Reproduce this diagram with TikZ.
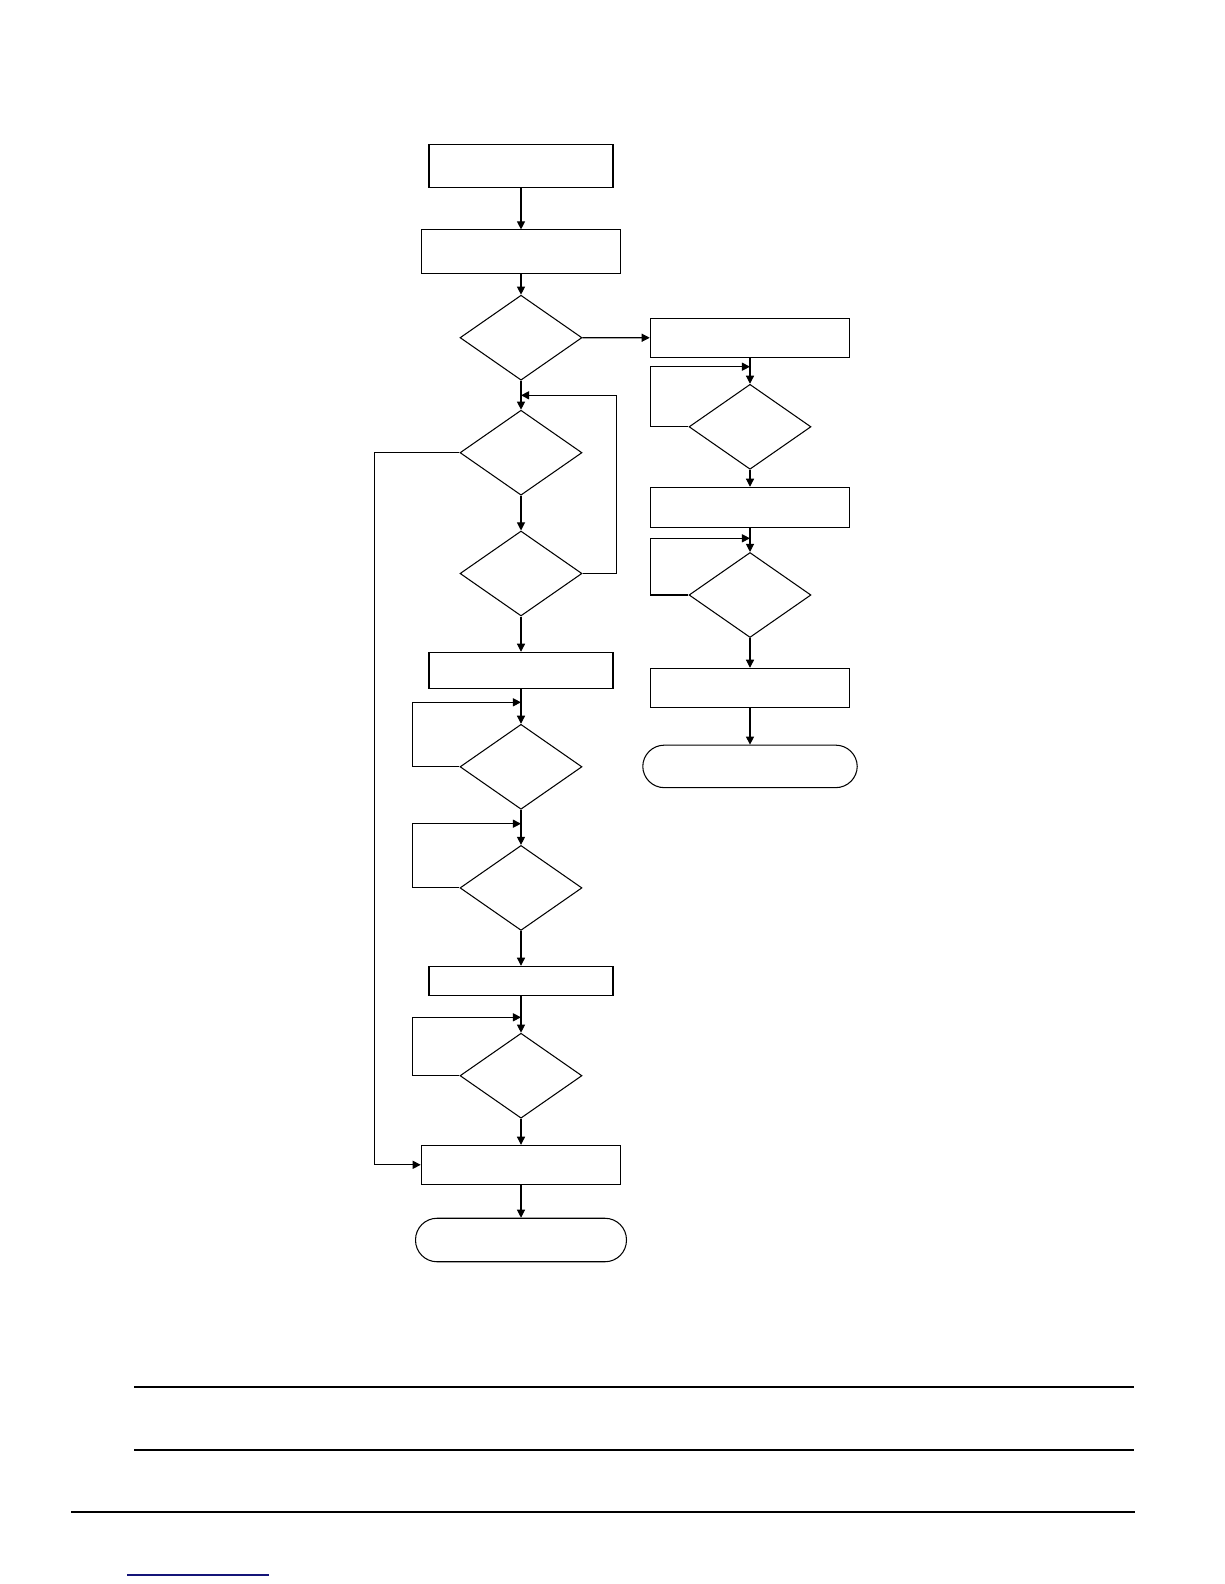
\documentclass[tikz,border=0pt]{standalone}
\usepackage{tikz}
\usetikzlibrary{shapes.geometric,arrows.meta}

\begin{document}
\begin{tikzpicture}[x=0.02cm, y=-0.02cm, line width=0.6pt,
    box/.style={draw, rectangle, minimum width=3.68cm, inner sep=0pt},
    widebox/.style={box, minimum width=3.99cm},
    decision/.style={draw, diamond, minimum width=2.44cm, minimum height=1.70cm, inner sep=0pt},
    terminal/.style={draw, rectangle, rounded corners=0.43cm, minimum height=0.86cm, inner sep=0pt},
    flow/.style={-{Triangle[length=4.6pt,width=4.6pt]}},
    rule/.style={line width=1.15pt}]
    \useasboundingbox (0,0) rectangle (1224,1584);

    % Main column
    \node[box, minimum height=0.86cm] (start) at (521,165.8) {};
    \node[widebox, minimum height=0.87cm] (init) at (521,251.7) {};
    \node[decision] (q1) at (521,337.7) {};
    \node[decision] (q2) at (521,452.7) {};
    \node[decision] (q3) at (521,573.5) {};
    \node[box, minimum height=0.72cm] (stepa) at (521,670.3) {};
    \node[decision] (wa) at (521,766.8) {};
    \node[decision] (wb) at (521,887.9) {};
    \node[box, minimum height=0.58cm] (stepb) at (521,980.8) {};
    \node[decision] (wc) at (521,1075.7) {};
    \node[widebox, minimum height=0.78cm] (finish) at (521,1164.8) {};
    \node[terminal, minimum width=4.22cm, minimum height=0.87cm] (stop) at (521,1240) {};

    % Right column
    \node[widebox, minimum height=0.78cm] (alt) at (750,337.8) {};
    \node[decision] (wd) at (750,426.8) {};
    \node[widebox, minimum height=0.80cm] (altb) at (750,507.3) {};
    \node[decision] (we) at (750,595) {};
    \node[widebox, minimum height=0.78cm] (altc) at (750,687.8) {};
    \node[terminal, minimum width=4.29cm, minimum height=0.85cm] (altstop) at (750,766.4) {};

    % Join points of the loops
    \coordinate (j1) at (521,395.3);
    \coordinate (ja) at (521,702.3);
    \coordinate (jb) at (521,823.7);
    \coordinate (jc) at (521,1017.3);
    \coordinate (jd) at (750,366.7);
    \coordinate (je) at (750,538.3);

    \draw[flow] (start) -- (init);
    \draw[flow] (init) -- (q1);
    \draw[flow] (q1) -- (alt);
    \draw[flow] (q1) -- (q2);
    \draw[flow] (q2) -- (q3);
    \draw[flow] (q3.east) -- ++(34,0) |- (j1);
    \draw[flow] (q2.west) -- ++(-85,0) |- (finish.west);
    \draw[flow] (q3) -- (stepa);
    \draw[flow] (stepa) -- (wa);
    \draw[flow] (wa.west) -- ++(-47,0) |- (ja);
    \draw[flow] (wa) -- (wb);
    \draw[flow] (wb.west) -- ++(-47,0) |- (jb);
    \draw[flow] (wb) -- (stepb);
    \draw[flow] (stepb) -- (wc);
    \draw[flow] (wc.west) -- ++(-47,0) |- (jc);
    \draw[flow] (wc) -- (finish);
    \draw[flow] (finish) -- (stop);

    \draw[flow] (alt) -- (wd);
    \draw[flow] (wd.west) -- ++(-38,0) |- (jd);
    \draw[flow] (wd) -- (altb);
    \draw[flow] (altb) -- (we);
    \draw[flow] (we.west) -- ++(-38,0) |- (je);
    \draw[flow] (we) -- (altc);
    \draw[flow] (altc) -- (altstop);

    % Page rules
    \draw[rule] (134,1386.7) -- (1134,1386.7);
    \draw[rule] (134,1450) -- (1134,1450);
    \draw[rule, line width=1.3pt] (71,1511.7) -- (1135,1511.7);
    \draw[color={rgb,255:red,20;green,20;blue,120}, line width=0.6pt] (127,1575) -- (269,1575);
\end{tikzpicture}
\end{document}
